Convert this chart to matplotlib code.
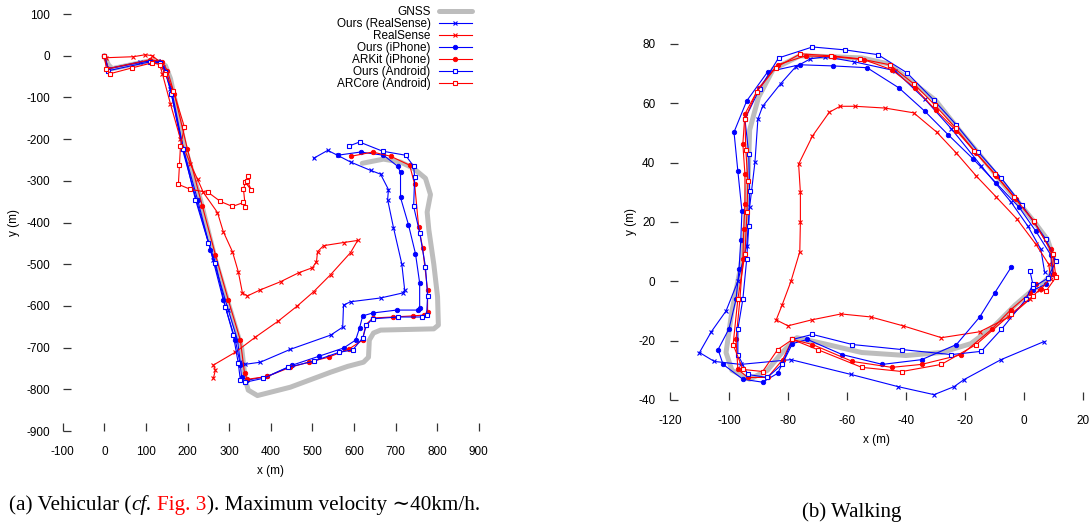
import matplotlib
matplotlib.use('Agg')
import matplotlib.pyplot as plt

plt.rcParams['font.family'] = ['Liberation Sans', 'DejaVu Sans']
plt.rcParams['axes.unicode_minus'] = False

# ---- (a) vehicular, metres ----
a_gnss_x = [0, 10, 19, 111, 130, 147, 159, 195, 231, 267, 303, 330, 339, 346, 368, 447, 544, 585, 623, 635, 637, 647, 664, 792, 803, 801, 792, 780, 776, 784, 772, 743, 712, 671, 620]
a_gnss_y = [0, -22, -31, -12, -14, -24, -55, -224, -345, -489, -610, -700, -778, -802, -815, -795, -759, -745, -735, -723, -682, -665, -658, -655, -646, -578, -500, -417, -375, -333, -294, -270, -255, -248, -258]

a_rs_ours_x = [0, 9.6, 86.6, 130, 142, 159, 187.7, 221, 262, 298, 320, 327, 339, 375, 447.5, 544, 573, 575, 592, 664, 717, 722, 715, 695, 681, 683, 664, 640, 592, 561, 537, 503]
a_rs_ours_y = [0, -31, -14.5, -12, -26.5, -79.5, -224, -345, -489, -610, -682, -735, -740, -735, -704, -670, -651, -598, -590, -581, -569, -562, -499, -412, -345, -321, -284, -275, -255, -239, -227, -246]

a_rs_x = [0, 4.8, 69.8, 98.6, 115.5, 130, 139.5, 159, 183, 207, 224, 238, 272, 286, 308, 322, 332, 344, 375, 423.5, 467, 500, 510, 512.5, 527, 575, 609, 592, 544, 503, 464, 418.6, 363, 315, 262, 267, 262]
a_rs_y = [0, -4.8, -2.4, 2.4, 0, -12, -43, -115.7, -200, -260, -296, -328, -376, -422, -470, -518, -569, -576, -561.5, -542, -520.6, -508.5, -494, -470, -455.5, -448, -443, -472, -525, -566, -600, -636, -675, -711, -742, -754, -774]

a_ip_ours_x = [0, 9.6, 110.7, 134.7, 149, 163.6, 190, 224, 255, 286, 315, 327, 330, 344, 392, 452, 515, 575, 604, 613.5, 621, 645, 702.6, 753, 758, 758, 748, 731, 712, 712, 705, 671, 616, 561]
a_ip_ours_y = [0, -31, -12, -14.5, -36, -91.6, -224, -345, -465, -586, -682, -742, -771, -778, -769, -742, -721, -701, -682, -653, -624, -617, -610, -610, -605, -545, -475, -405, -340, -280, -265, -238.6, -231, -238.6]

a_arkit_x = [0, 9.6, 110.7, 139.5, 151.6, 168.4, 199.7, 235.8, 267, 298, 327, 337, 344, 392, 447.5, 491, 539, 587, 621, 628, 645, 693, 741, 767.5, 777, 777, 765, 755.5, 746, 734, 688, 645, 594]
a_arkit_y = [0, -31, -9.6, -14.5, -36, -91.6, -224, -361.5, -477, -586, -682, -761.6, -776, -769, -747, -735, -723, -704, -682, -646, -629, -626.6, -624, -622, -614.6, -561.5, -460, -410, -308.5, -262.7, -241, -231, -241]

a_and_ours_x = [0, 9.6, 110.7, 134.7, 146.8, 161, 190, 219, 250, 267, 291, 310, 322, 327, 339, 382.5, 442.7, 503, 565, 596.7, 621, 630, 645, 707, 762.7, 774.7, 777, 772, 758, 743.5, 746, 743.5, 724, 669, 613.5, 587]
a_and_ours_y = [0, -36, -14.5, -17, -38.6, -91.6, -224, -345, -448, -496.5, -602.5, -670, -737.5, -778, -783, -773.6, -747, -732.6, -711, -706, -677, -646, -631, -626.6, -626.6, -622, -576, -506, -424, -361.5, -291.6, -265, -238.6, -229, -207, -217]

a_arcore_x = [0, 4.8, 14.4, 67.4, 115.5, 134.7, 146.8, 166, 192.5, 183, 180.5, 178, 207, 250, 279, 308, 334.5, 339, 334.5, 339, 353.7, 344, 346.5]
a_arcore_y = [0, -31, -43, -29, -17, -21.7, -43, -84, -171, -217, -263, -308.5, -320.5, -328, -349.5, -361.5, -352, -364, -320.5, -303.7, -323, -301, -289]

# ---- (b) walking, metres ----
b_gnss_x = [6, 9, 10, 8, 3.5, -5.5, -14.5, -22, -30, -39, -46, -55, -65, -76, -85, -90, -93, -93.5, -94.5, -96, -99, -101, -99, -93, -87, -82, -77, -68, -55, -40, -28, -18, -10, -3, 4]
b_gnss_y = [-1, 2, 8, 14, 20, 31, 42, 51, 61, 68, 73.3, 75.3, 75.7, 76, 71.5, 62, 51, 35, 18, 5, -10, -24, -30, -33, -30, -24, -19, -21, -24, -25, -24, -21, -15, -8, -2]

b_rs_ours_x = [7, 5.7, 1.3, -4.4, -14.5, -24.6, -33.7, -43.8, -57.6, -67.3, -72.4, -77.4, -82.5, -88.6, -90.2, -91.2, -93, -94, -97, -101, -106, -110, -105, -96, -79, -58.6, -42.7, -30.5, -23.7, -20.3, -7.8, 6.8]
b_rs_ours_y = [3, 10.8, 18.6, 26.7, 38.9, 51.4, 61.5, 71, 74, 75.7, 75, 72.3, 66.6, 59, 54.7, 40.2, 25, 12, 0, -10, -17, -24, -27, -28, -26.4, -31.4, -35.5, -38.2, -35.5, -33.1, -26.4, -20.3]

b_rs_x = [9, 8.4, 4, -2.4, -9.4, -16.2, -22.9, -29.6, -37.4, -47.1, -57.2, -62.3, -66, -71.7, -76.4, -75.8, -75.8, -76, -79, -82, -84, -80, -72, -62, -52, -41, -28, -15, -5, 2, 5]
b_rs_y = [0.7, 5.7, 12.5, 21, 28.4, 35.5, 43.2, 50.3, 56.8, 58.4, 59, 59, 57, 49, 39.5, 30, 20, 10, 0, -8, -13, -15, -13, -11, -12, -15, -19, -17, -12, -6, -3]

b_ip_ours_x = [3, 7.4, 9.8, 9, 4, -1.7, -9.4, -17.2, -25.6, -33.7, -42.4, -53.2, -64.6, -76, -86.9, -94, -98.3, -97, -95.6, -96, -96.6, -97.6, -100, -103.7, -102, -95.3, -88.6, -83.5, -78.5, -73.4, -61.6, -48, -34.7, -22.9, -15, -10, -4.4]
b_ip_ours_y = [-3, -1, 2.4, 9, 16.9, 25, 33.1, 41.2, 49.3, 57.4, 65.2, 72, 72.6, 73, 70.6, 60.8, 50.3, 37.2, 23.6, 14, 4, -6, -16, -23, -28, -33, -34, -31, -21, -19.6, -24.7, -28, -26.4, -21.3, -12, -4, 4.7]

b_arkit_x = [5.7, 10, 9, 3.4, -2.7, -9.4, -16.2, -22.9, -30, -37, -44.8, -54.2, -64.3, -74, -83.5, -89.9, -94.6, -95.3, -94.6, -94.6, -95, -95.3, -96.3, -97.6, -97, -93.6, -86.9, -81.8, -78.5, -71.7, -58.2, -44.8, -34.7, -21.2, -11, -4.4, 2, 4]
b_arkit_y = [-2.7, 2.4, 10.8, 20, 27.7, 35.5, 43.2, 50.7, 57.8, 65.2, 71.3, 74.7, 75.7, 76, 73, 65.2, 56.4, 46.3, 36.1, 26, 17.6, 7.4, -6, -19.6, -29.7, -32.4, -32.4, -26.4, -19.6, -21.3, -27, -29, -28, -24.7, -16.2, -9.5, -4, -1]

b_and_ours_x = [3, 8, 10.8, 7.4, -0.7, -7.7, -15.5, -22.9, -30.6, -39.7, -49.5, -60.6, -71.7, -83.2, -89.6, -94.6, -93.3, -93, -93.3, -94, -95.3, -97, -97, -93.6, -87, -82, -78.5, -71.7, -58.2, -41.4, -24.6, -14.5, -7.7, 0.7, 3, 2]
b_and_ours_y = [-2, 1, 6.8, 14.2, 25.7, 34.8, 43.6, 52.7, 61.1, 70.3, 76.4, 78, 79, 75.3, 64.9, 54.7, 42.9, 30.4, 18.6, 7.4, -6, -16.2, -24.7, -31.4, -32.4, -28, -19.6, -17.9, -21.3, -23, -24.7, -23.6, -16.2, -6, -1, 3.5]

b_arcore_x = [7.4, 10.8, 9.8, 3.4, -3.4, -9.8, -16.8, -23.2, -30.3, -37.4, -45.5, -55.6, -65.3, -75.8, -84.2, -90.6, -94.6, -94.3, -93.6, -93.9, -94.6, -97, -98.6, -95.3, -88.6, -83.5, -78.5, -70, -55, -41.4, -28, -16.2, -4.4, 3]
b_arcore_y = [-3.4, 1.4, 9.1, 20.3, 28.4, 36.1, 43.9, 51.7, 59.5, 66.6, 73, 75, 76, 76.7, 72, 63.9, 54.7, 44.3, 33.8, 23.3, 9.1, -6, -21.3, -29.7, -30.4, -23, -19.6, -23, -29, -30.4, -28, -21.3, -11, -5]

labels = ['GNSS', 'Ours (RealSense)', 'RealSense', 'Ours (iPhone)',
          'ARKit (iPhone)', 'Ours (Android)', 'ARCore (Android)']

BLUE = '#0000ff'
RED = '#ff0000'
GREY = '#bdbdbd'
styles = [
    dict(color=GREY, lw=3.6, solid_joinstyle='round', solid_capstyle='round'),
    dict(color=BLUE, lw=0.8, marker='x', ms=3, mew=0.8),
    dict(color=RED, lw=0.8, marker='x', ms=3, mew=0.8),
    dict(color=BLUE, lw=0.8, marker='o', ms=3.2, mew=0.6),
    dict(color=RED, lw=0.8, marker='o', ms=3.2, mew=0.6),
    dict(color=BLUE, lw=0.8, marker='s', ms=3.4, mew=0.8, mfc='white'),
    dict(color=RED, lw=0.8, marker='s', ms=3.4, mew=0.8, mfc='white'),
]

fig = plt.figure(figsize=(10.91, 5.23), dpi=100)
ax1 = fig.add_axes([0.0575, 0.1759, 0.3813, 0.7973])
ax2 = fig.add_axes([0.6141, 0.2352, 0.3786, 0.6807])

series_a = [(a_gnss_x, a_gnss_y), (a_rs_ours_x, a_rs_ours_y), (a_rs_x, a_rs_y),
            (a_ip_ours_x, a_ip_ours_y), (a_arkit_x, a_arkit_y),
            (a_and_ours_x, a_and_ours_y), (a_arcore_x, a_arcore_y)]
series_b = [(b_gnss_x, b_gnss_y), (b_rs_ours_x, b_rs_ours_y), (b_rs_x, b_rs_y),
            (b_ip_ours_x, b_ip_ours_y), (b_arkit_x, b_arkit_y),
            (b_and_ours_x, b_and_ours_y), (b_arcore_x, b_arcore_y)]

for (x, y), lab, st in zip(series_a, labels, styles):
    ax1.plot(x, y, label=lab, **st)
for (x, y), st in zip(series_b, styles):
    ax2.plot(x, y, **st)


def style_axes(ax, xlim, ylim, xticks, yticks, xpad, ypad, xlab_y, ylab_x):
    ax.set_xlim(*xlim)
    ax.set_ylim(*ylim)
    ax.set_xticks(xticks)
    ax.set_yticks(yticks)
    for s in ax.spines.values():
        s.set_visible(False)
    ax.tick_params(direction='in', length=5.5, width=0.9, color='#333333',
                   labelsize=8.5)
    ax.tick_params(axis='x', pad=xpad)
    ax.tick_params(axis='y', pad=ypad)
    ax.set_xlabel('x (m)', fontsize=8.5)
    ax.set_ylabel('y (m)', fontsize=8.5)
    ax.xaxis.set_label_coords(0.5, xlab_y)
    ax.yaxis.set_label_coords(ylab_x, 0.5)


style_axes(ax1, (-100, 900), (-900, 100), range(-100, 901, 100),
           range(-900, 101, 100), 11, 9, -0.0815, -0.103)
style_axes(ax2, (-120, 20), (-40, 80), range(-120, 21, 20),
           range(-40, 81, 20), 11, 10.5, -0.0955, -0.080)

fig.legend(*ax1.get_legend_handles_labels(), loc='upper right',
           bbox_to_anchor=(472 / 1091, 1 - 6 / 523), markerfirst=False,
           frameon=False, fontsize=8.5, handlelength=2.8, handletextpad=0.7,
           labelspacing=0.0, borderpad=0, borderaxespad=0)

# captions
serif = ['Liberation Serif', 'DejaVu Serif']
fig.canvas.draw()
renderer = fig.canvas.get_renderer()
parts = [('(a) Vehicular (', 'normal', 'black'), ('cf.', 'italic', 'black'),
         (' ', 'normal', 'black'), ('Fig. 3', 'normal', RED),
         ('). Maximum velocity \u223c40km/h.', 'normal', 'black')]
xpos = 9
for txt, sty, col in parts:
    t = fig.text(xpos / 1091, 1 - 510 / 523, txt, family=serif, style=sty,
                 color=col, fontsize=15.3, va='baseline', ha='left')
    bb = t.get_window_extent(renderer)
    xpos += bb.width
fig.text(851.5 / 1091, 1 - 517 / 523, '(b) Walking', family=serif,
         fontsize=15, va='baseline', ha='center')

fig.savefig('out.png', dpi=100)
